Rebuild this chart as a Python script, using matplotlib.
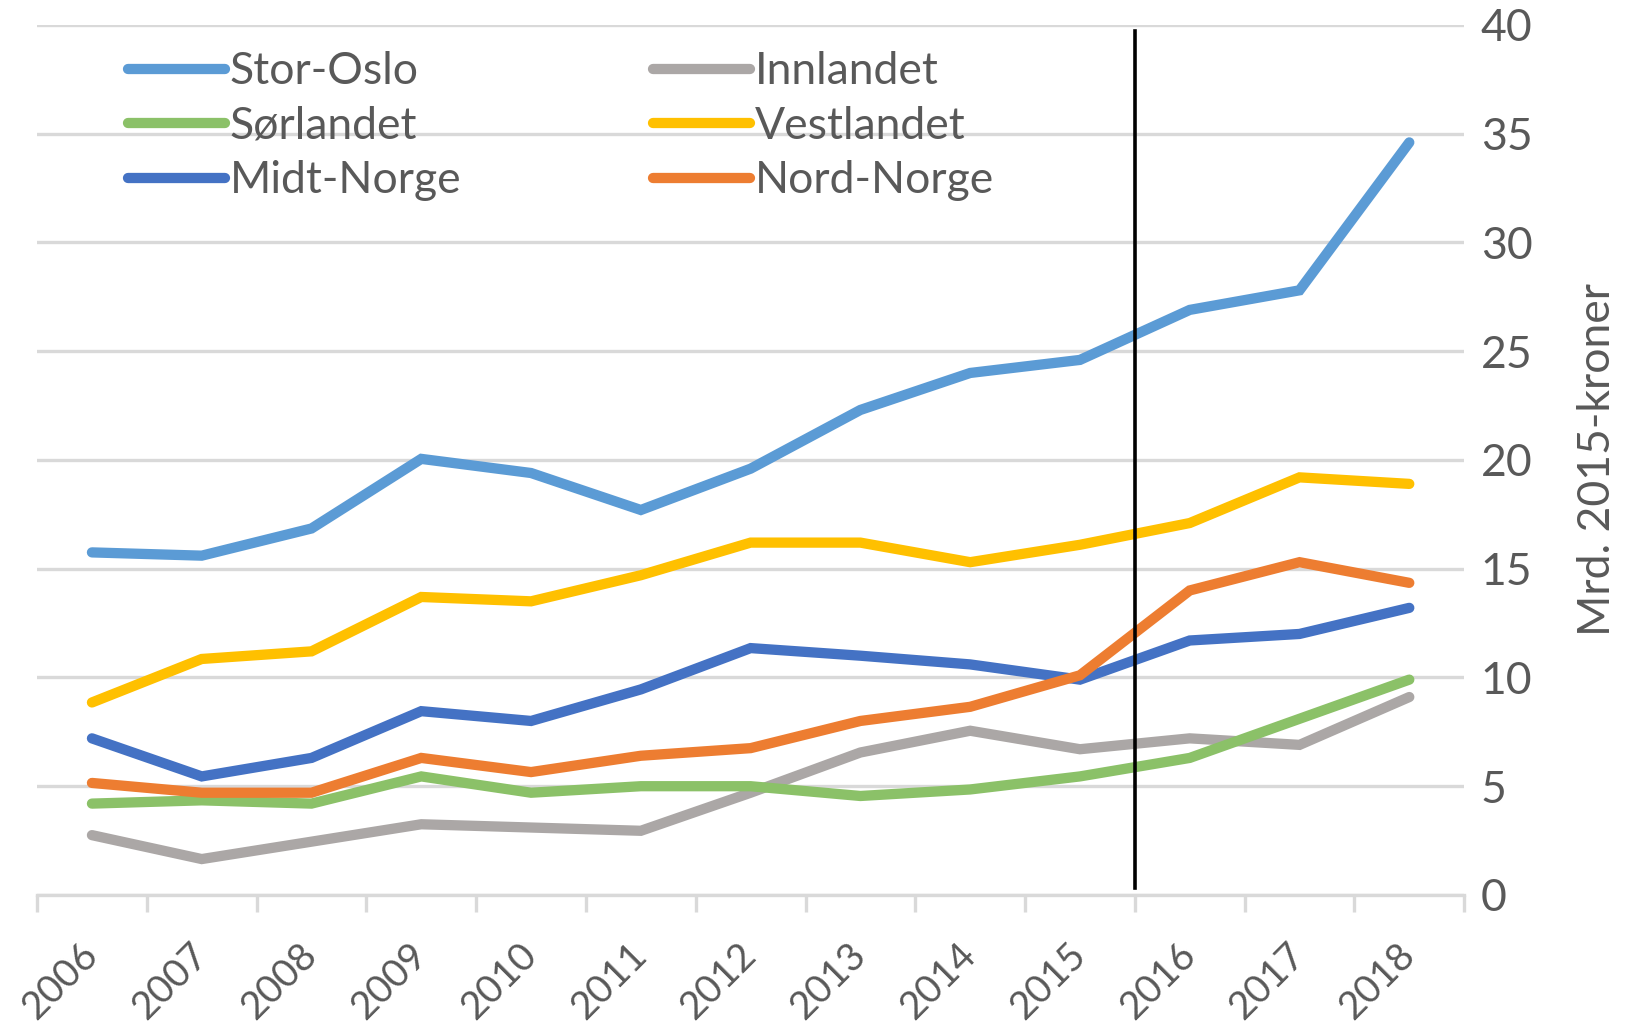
import numpy as np
import matplotlib.pyplot as plt

years = ['2006', '2007', '2008', '2009', '2010', '2011', '2012',
         '2013', '2014', '2015', '2016', '2017', '2018']
stor_oslo = [15.75, 15.6, 16.85, 20.05, 19.4, 17.7, 19.6, 22.3, 24.0, 24.6, 26.9, 27.8, 34.6]
innlandet = [2.75, 1.65, 2.45, 3.25, 3.1, 2.95, 4.7, 6.55, 7.55, 6.7, 7.2, 6.9, 9.1]
sorlandet = [4.2, 4.35, 4.2, 5.45, 4.7, 5.0, 5.0, 4.55, 4.85, 5.45, 6.3, 8.1, 9.9]
vestlandet = [8.85, 10.85, 11.2, 13.7, 13.5, 14.7, 16.2, 16.2, 15.3, 16.1, 17.1, 19.2, 18.9]
midt_norge = [7.2, 5.45, 6.3, 8.45, 8.0, 9.45, 11.35, 11.0, 10.6, 9.9, 11.7, 12.0, 13.2]
nord_norge = [5.15, 4.7, 4.7, 6.3, 5.65, 6.4, 6.75, 8.0, 8.65, 10.1, 14.0, 15.3, 14.35]

series = [
    ('Stor-Oslo', stor_oslo, '#5B9BD5'),
    ('Innlandet', innlandet, '#ABA7A6'),
    ('Sørlandet', sorlandet, '#8BC168'),
    ('Vestlandet', vestlandet, '#FFC000'),
    ('Midt-Norge', midt_norge, '#4472C4'),
    ('Nord-Norge', nord_norge, '#ED7D31'),
]

plt.rcParams['font.family'] = ['Lato', 'DejaVu Sans']
txt = '#595959'
grid = '#D9D9D9'
fs = 32

fig = plt.figure(figsize=(16.47, 10.32), dpi=100)
ax = fig.add_axes([0.0225, 0.1328, 0.8665, 0.843])

x = np.arange(len(years))
lines = {}
for name, vals, col in series:
    lines[name], = ax.plot(x, vals, color=col, lw=7.4, solid_capstyle='round',
                           solid_joinstyle='miter', label=name, zorder=3)

ax.set_xlim(-0.5, len(years) - 0.5)
ax.set_ylim(0, 40)
ax.set_yticks(range(0, 41, 5))
ax.yaxis.tick_right()
ax.yaxis.set_label_position('right')
ax.tick_params(axis='y', length=0, pad=12, labelsize=fs, labelcolor=txt)
ax.grid(axis='y', color=grid, lw=2.4, zorder=0)
ax.set_ylabel('Mrd. 2015-kroner', fontsize=fs, color=txt, labelpad=32)

ax.set_xticks(x)
ax.set_xticklabels(years, rotation=45, ha='right', va='center',
                   rotation_mode='anchor', fontsize=28, color=txt)
ax.tick_params(axis='x', which='major', length=0, pad=39)
ax.set_xticks(np.arange(-0.5, len(years)), minor=True)
ax.tick_params(axis='x', which='minor', length=12, width=2.4, color=grid)

for s in ['top', 'left', 'right']:
    ax.spines[s].set_visible(False)
ax.spines['bottom'].set_color(grid)
ax.spines['bottom'].set_linewidth(2.4)

ax.plot([9.5, 9.5], [0.3, 39.7], color='black', lw=2.6, zorder=4)

# rows: Stor-Oslo/Innlandet, Sørlandet/Vestlandet, Midt-Norge/Nord-Norge
order = ['Stor-Oslo', 'Sørlandet', 'Midt-Norge', 'Innlandet', 'Vestlandet', 'Nord-Norge']
ax.legend([lines[n] for n in order], order, loc='upper left',
          bbox_to_anchor=(0.051, 0.99), ncol=2, frameon=False,
          fontsize=fs, labelcolor=txt, handlelength=2.2, handletextpad=0.1,
          columnspacing=4.3, labelspacing=0.3, borderaxespad=0)

fig.savefig('out.png', dpi=100)
